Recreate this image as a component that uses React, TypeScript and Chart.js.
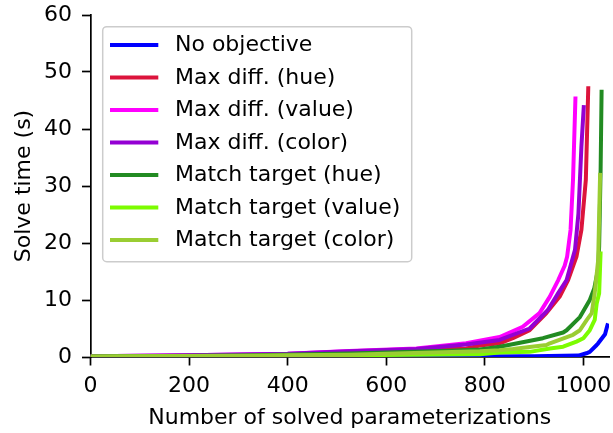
import React, { useEffect, useRef } from 'react';
import { Chart, registerables } from 'chart.js';

Chart.register(...registerables);

const FONT = '"DejaVu Sans", sans-serif';

const seriesLabels = [
  'No objective',
  'Max diff. (hue)',
  'Max diff. (value)',
  'Max diff. (color)',
  'Match target (hue)',
  'Match target (value)',
  'Match target (color)',
];
const seriesColors = ['#0000ff', '#dc143c', '#ff00ff', '#9400d3', '#228b22', '#7cfc00', '#9acd32'];

const xTicks = [0, 200, 400, 600, 800, 1000];
const yTicks = [0, 10, 20, 30, 40, 50, 60];

const noObjX = [0, 300, 600, 900, 990, 1006, 1013, 1027, 1030, 1044, 1048, 1050];
const noObjY = [0.05, 0.08, 0.1, 0.15, 0.25, 0.65, 0.9, 2.1, 2.4, 4.0, 5.3, 5.9];

const maxHueX = [0, 200, 400, 525, 660, 762, 790, 830, 857, 891, 925, 952, 969, 986, 996, 1005, 1010];
const maxHueY = [0.1, 0.2, 0.4, 0.8, 1.2, 1.5, 2.0, 2.4, 3.3, 4.7, 7.7, 10.6, 13.5, 17.6, 22.3, 31.1, 47.5];

const maxValX = [0, 200, 400, 525, 661, 762, 830, 877, 911, 932, 949, 962, 967, 974, 979, 984];
const maxValY = [0.15, 0.3, 0.55, 1.05, 1.5, 2.4, 3.5, 5.3, 7.7, 10.6, 13.5, 16, 17.6, 22.3, 31.1, 45.7];

const maxColX = [0, 200, 400, 525, 661, 762, 830, 891, 928, 949, 966, 983, 990, 996, 1001];
const maxColY = [0.15, 0.3, 0.55, 1.0, 1.4, 2.2, 3.0, 5.0, 8.25, 11.2, 13.5, 18.8, 25.2, 36.9, 44.2];

const tgtHueX = [0, 300, 525, 729, 790, 830, 918, 959, 966, 993, 1013, 1022, 1030, 1032, 1035, 1037];
const tgtHueY = [0.1, 0.25, 0.6, 1.1, 1.3, 1.8, 3.3, 4.3, 4.7, 7.0, 10, 12, 15.5, 19.4, 32.8, 46.9];

const tgtValX = [0, 300, 525, 790, 830, 891, 932, 959, 986, 1000, 1013, 1023, 1027, 1032, 1035];
const tgtValY = [0.05, 0.15, 0.3, 0.5, 0.8, 0.9, 1.5, 1.8, 2.7, 3.3, 4.7, 6.5, 9.4, 11.2, 18.5];

const tgtColX = [0, 300, 525, 790, 830, 857, 925, 932, 979, 993, 1007, 1017, 1023, 1030, 1034];
const tgtColY = [0.1, 0.2, 0.4, 1.0, 1.2, 1.4, 2.1, 2.4, 3.9, 4.7, 6.5, 7.7, 11.2, 17, 32.3];

const seriesX = [noObjX, maxHueX, maxValX, maxColX, tgtHueX, tgtValX, tgtColX];
const seriesY = [noObjY, maxHueY, maxValY, maxColY, tgtHueY, tgtValY, tgtColY];

const legendPlugin = {
  id: 'mplLegend',
  afterDraw(chart: any) {
    const ctx = chart.ctx;
    ctx.save();
    const bx = 102.7, by = 26.7, bw = 309, bh = 235;
    ctx.beginPath();
    ctx.roundRect(bx, by, bw, bh, 4);
    ctx.fillStyle = 'rgba(255,255,255,0.8)';
    ctx.fill();
    ctx.lineWidth = 1.5;
    ctx.strokeStyle = '#cccccc';
    ctx.stroke();
    ctx.font = `22px ${FONT}`;
    ctx.textBaseline = 'middle';
    ctx.textAlign = 'left';
    chart.data.datasets.forEach((ds: any, i: number) => {
      const cy = 45 + i * 32.5;
      ctx.beginPath();
      ctx.moveTo(110, cy);
      ctx.lineTo(158.3, cy);
      ctx.strokeStyle = ds.borderColor;
      ctx.lineWidth = 4;
      ctx.lineCap = 'butt';
      ctx.stroke();
      ctx.fillStyle = '#000';
      ctx.fillText(ds.label, 175, cy + 0.5);
    });
    ctx.restore();
  },
};

export default function App() {
  const ref = useRef<HTMLCanvasElement>(null);
  useEffect(() => {
    if (!ref.current) return;
    const datasets = seriesLabels.map((label, i) => ({
      label,
      data: seriesX[i].map((x, j) => ({ x, y: seriesY[i][j] })),
      borderColor: seriesColors[i],
      backgroundColor: seriesColors[i],
      borderWidth: 4,
      pointRadius: 0,
      tension: 0,
      borderJoinStyle: 'round' as const,
      order: -i,
      fill: false,
    }));
    const chart = new Chart(ref.current, {
      type: 'line',
      data: { datasets },
      plugins: [legendPlugin],
      options: {
        animation: false,
        responsive: false,
        devicePixelRatio: 1,
        events: [],
        layout: { padding: { left: 0, right: 4, top: 15, bottom: 0 } },
        plugins: { legend: { display: false }, tooltip: { enabled: false } },
        scales: {
          x: {
            type: 'linear',
            min: 0,
            max: 1052,
            afterBuildTicks: (s: any) => { s.ticks = xTicks.map((v) => ({ value: v })); },
            afterFit: (s: any) => { s.height = 433 - 357; s.paddingLeft = 0; s.paddingRight = 0; },
            border: { display: true, color: '#000', width: 1.7 },
            grid: { display: true, drawOnChartArea: false, drawTicks: true, tickLength: 8.5, tickColor: '#000', tickWidth: 1.7 },
            ticks: { color: '#000', font: { family: FONT, size: 22 }, padding: 8, maxRotation: 0, autoSkip: false, callback: (v: any) => String(v) },
            title: { display: true, text: 'Number of solved parameterizations', color: '#000', font: { family: FONT, size: 22 }, padding: { top: 0, bottom: 1.5 } },
          },
          y: {
            type: 'linear',
            min: 0,
            max: 60,
            afterBuildTicks: (s: any) => { s.ticks = yTicks.map((v) => ({ value: v })); },
            afterFit: (s: any) => { s.width = 90.5; s.paddingTop = 0; s.paddingBottom = 0; },
            border: { display: true, color: '#000', width: 1.7 },
            grid: { display: true, drawOnChartArea: false, drawTicks: true, tickLength: 8.5, tickColor: '#000', tickWidth: 1.7 },
            ticks: { color: '#000', font: { family: FONT, size: 22 }, padding: 10, callback: (v: any) => String(v) },
            title: { display: true, text: 'Solve time (s)', color: '#000', font: { family: FONT, size: 22 }, padding: { top: 11, bottom: 0 } },
          },
        },
      },
    });
    return () => chart.destroy();
  }, []);
  return (
    <div style={{ position: 'fixed', left: 0, top: 0, width: 613, height: 433, background: '#fff' }}>
      <canvas ref={ref} width={613} height={433} style={{ width: 613, height: 433, display: 'block' }} />
    </div>
  );
}
